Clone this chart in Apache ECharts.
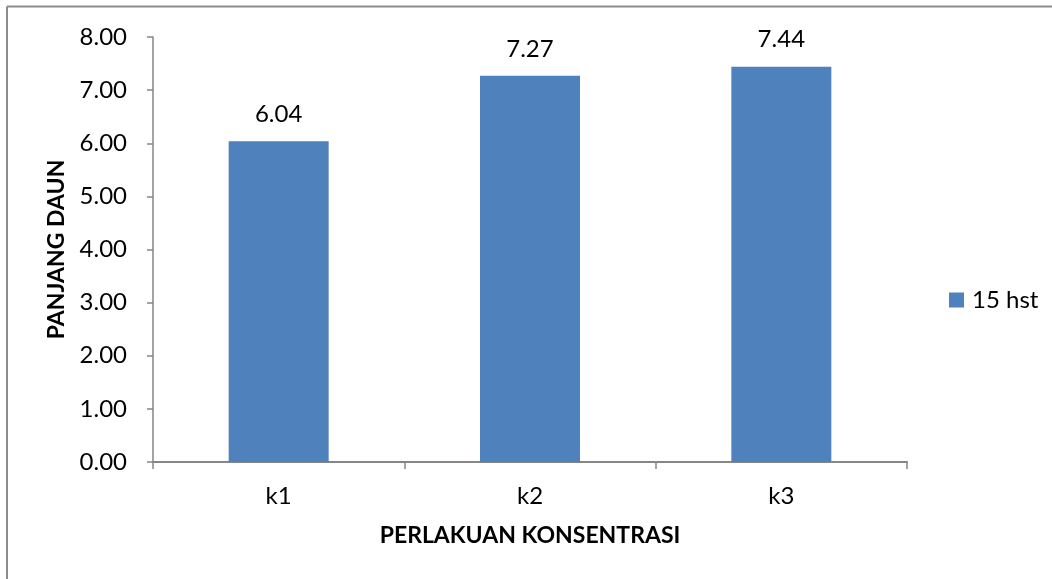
<!DOCTYPE html>
<html>
<head>
<meta charset="utf-8">
<script src="https://cdn.jsdelivr.net/npm/echarts@6/dist/echarts.min.js"></script>
<style>
    html, body { margin: 0; padding: 0; background: #fff; }
    #chart { width: 1052px; height: 579px; }
</style>
</head>
<body>
<div id="chart"></div>
<script>
    // data
    const categories = ['k1', 'k2', 'k3']
    const seriesName = '15 hst'
    const values = [6.04, 7.27, 7.44]
    const yTicks = { min: 0, max: 8, interval: 1 }

    const axisGray = '#868686'
    const font = 'Lato, "Open Sans", sans-serif'

    let chart = echarts.init(document.getElementById('chart'))
    let option = {
        animation: false,
        textStyle: { fontFamily: font },
        graphic: [
            // outer frame (only top and left edges are visible in the crop)
            { type: 'line', shape: { x1: 7, y1: 6.5, x2: 1052, y2: 6.5 }, style: { stroke: '#8c8c8c', lineWidth: 2 } },
            { type: 'line', shape: { x1: 7, y1: 6.5, x2: 7, y2: 579 }, style: { stroke: '#8c8c8c', lineWidth: 2 } }
        ],
        grid: { left: 153, right: 145, top: 37, bottom: 117 },
        legend: {
            data: [seriesName],
            orient: 'vertical',
            left: 944,
            top: 283,
            itemWidth: 15,
            itemHeight: 15,
            icon: 'rect',
            textStyle: { fontSize: 24, color: '#000', fontFamily: font, padding: [0, 0, 0, 3] }
        },
        xAxis: {
            type: 'category',
            data: categories,
            name: 'PERLAKUAN KONSENTRASI',
            nameLocation: 'middle',
            nameGap: 62,
            nameTextStyle: { fontSize: 23, fontWeight: 'bold', color: '#000', fontFamily: font },
            axisLine: { lineStyle: { color: axisGray, width: 2 } },
            axisTick: { show: true, length: 7, lineStyle: { color: axisGray, width: 1.5 } },
            axisLabel: { fontSize: 24, color: '#000', margin: 22, fontFamily: font }
        },
        yAxis: {
            type: 'value',
            min: yTicks.min,
            max: yTicks.max,
            interval: yTicks.interval,
            name: 'PANJANG DAUN',
            nameLocation: 'middle',
            nameGap: 85,
            nameTextStyle: { fontSize: 23, fontWeight: 'bold', color: '#000', fontFamily: font },
            axisLine: { show: true, lineStyle: { color: axisGray, width: 1.5 } },
            axisTick: { show: true, length: 6, lineStyle: { color: axisGray, width: 1.5 } },
            splitLine: { show: false },
            axisLabel: {
                fontSize: 24, color: '#000', margin: 26, fontFamily: font,
                formatter: v => v.toFixed(2)
            }
        },
        series: [{
            name: seriesName,
            type: 'bar',
            data: values,
            barWidth: 100,
            itemStyle: { color: '#4F81BD' },
            label: {
                show: true,
                position: 'top',
                distance: 15,
                fontSize: 24,
                color: '#000',
                fontFamily: font,
                formatter: p => p.value.toFixed(2)
            }
        }]
    }
    chart.setOption(option)
</script>
</body>
</html>
